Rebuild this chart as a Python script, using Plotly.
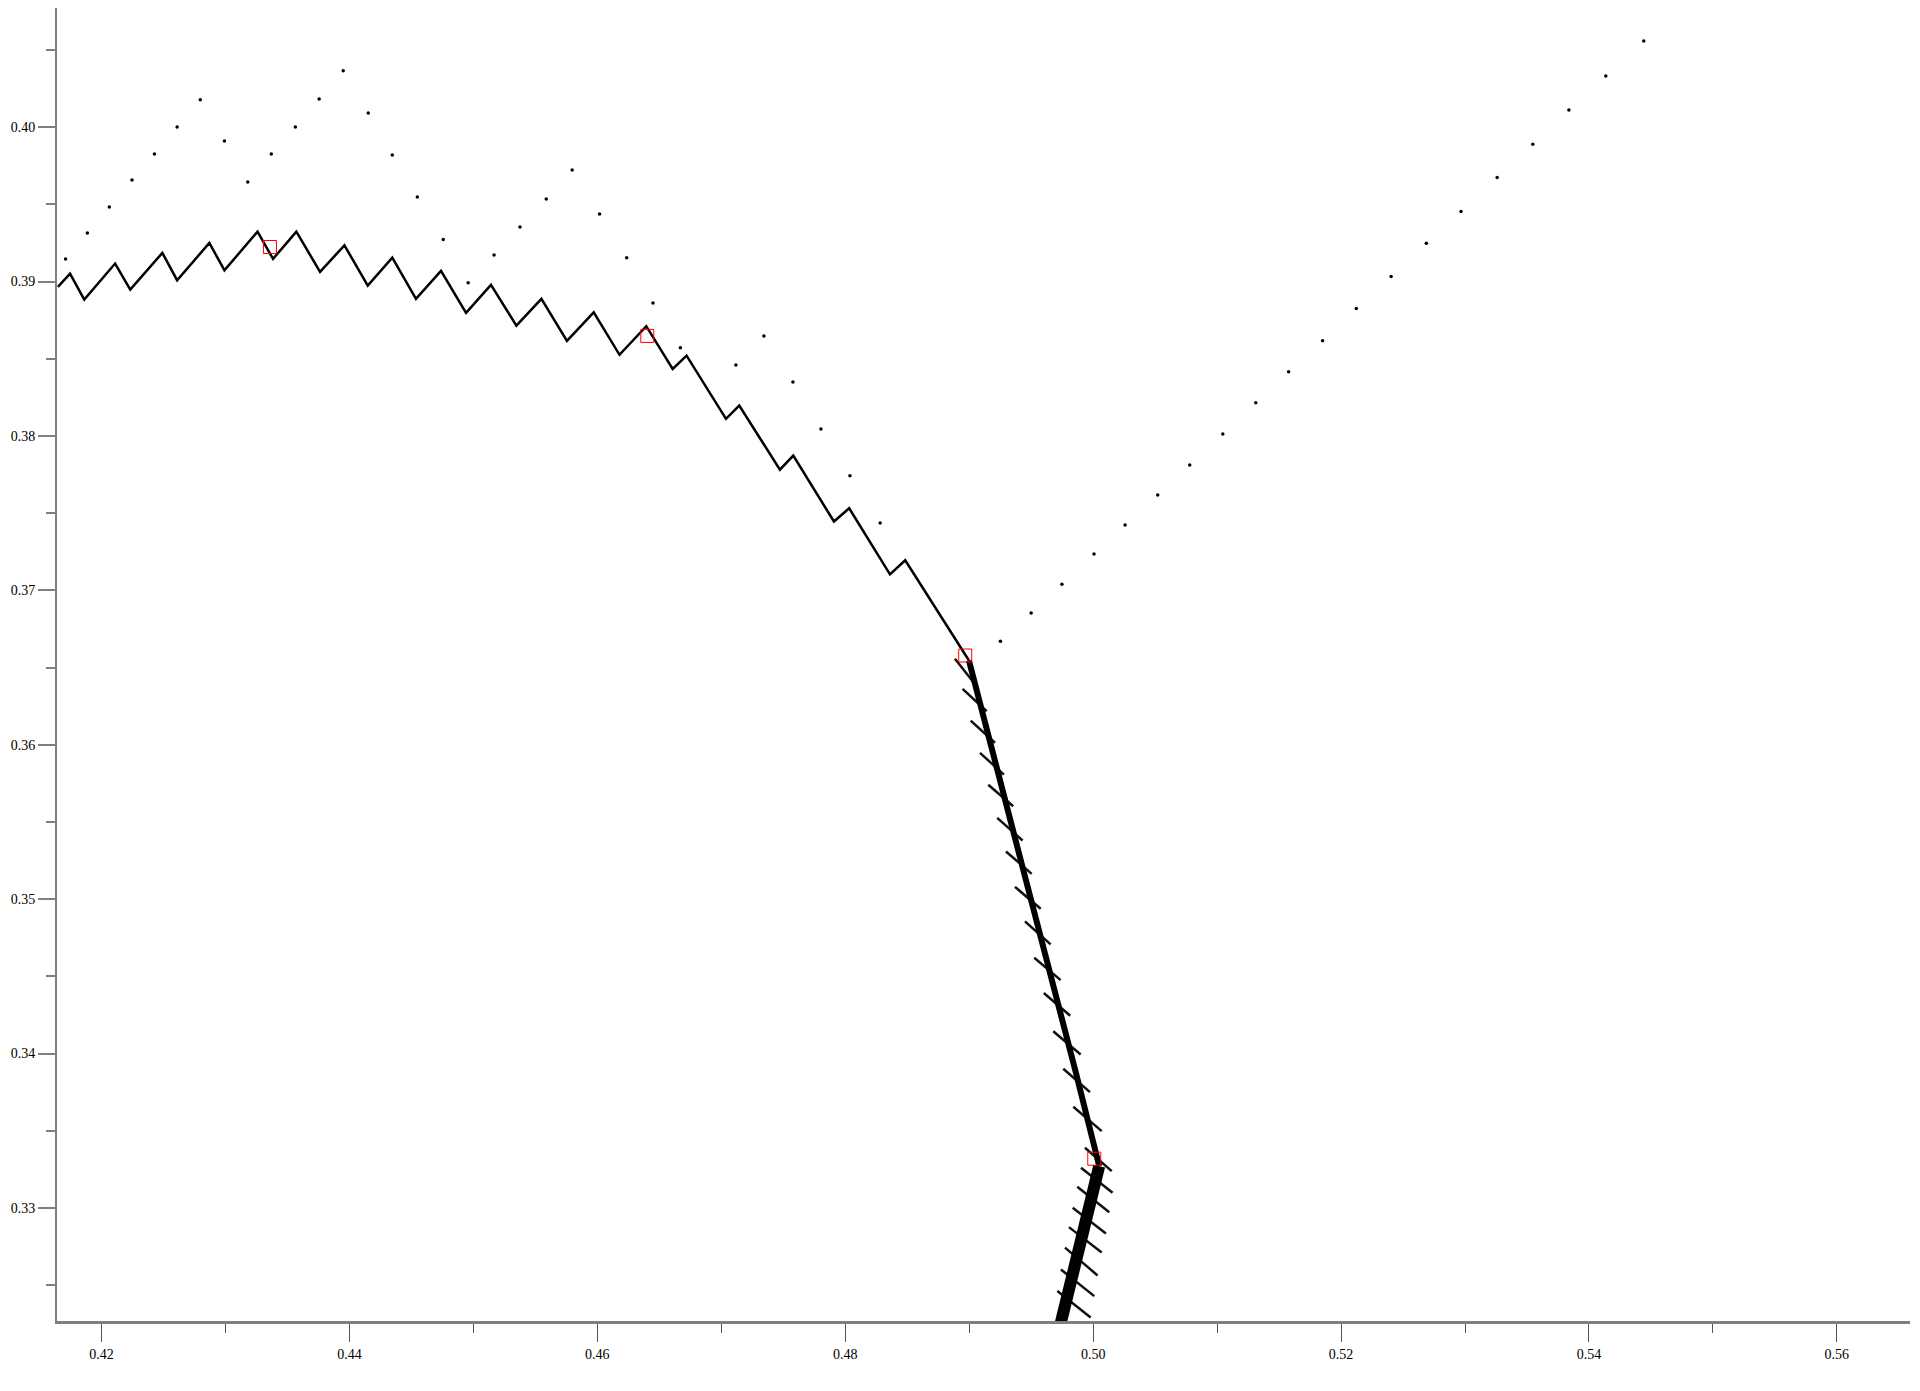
import plotly.graph_objects as go

# main zigzag path (left part of the orbit)
zigzag_x = [0.41648, 0.41746, 0.41861, 0.42110, 0.42232, 0.42491, 0.42610, 0.42870,
            0.42992, 0.43259, 0.43384, 0.43572, 0.43763, 0.43960, 0.44148, 0.44346,
            0.44537, 0.44739, 0.44941, 0.45142, 0.45347, 0.45549, 0.45755, 0.45971,
            0.46179, 0.46395, 0.46608, 0.46720, 0.47038, 0.47145, 0.47473, 0.47581,
            0.47909, 0.48032, 0.48361, 0.48484, 0.48998]
zigzag_y = [0.38966, 0.39052, 0.38883, 0.39117, 0.38948, 0.39186, 0.39009, 0.39250,
            0.39073, 0.39324, 0.39147, 0.39324, 0.39063, 0.39235, 0.38974, 0.39155,
            0.38888, 0.39069, 0.38797, 0.38979, 0.38715, 0.38888, 0.38616, 0.38801,
            0.38526, 0.38711, 0.38434, 0.38520, 0.38111, 0.38197, 0.37782, 0.37873,
            0.37446, 0.37532, 0.37104, 0.37195, 0.36546]

# dense band
band_upper_x = [0.48998, 0.49704, 0.49861, 0.50049]
band_upper_y = [0.36546, 0.34389, 0.33876, 0.33271]
band_lower_x = [0.50049, 0.49746, 0.49728]
band_lower_y = [0.33271, 0.32278, 0.32220]

# short side branches along the band
barb_x0 = [0.48885, 0.48947, 0.49012, 0.49087, 0.49154, 0.49226, 0.49297, 0.49369,
           0.49450, 0.49525, 0.49602, 0.49678, 0.49759, 0.49840, 0.49934, 0.49902,
           0.49872, 0.49835, 0.49805, 0.49773, 0.49740, 0.49711]
barb_y0 = [0.36557, 0.36362, 0.36157, 0.35948, 0.35741, 0.35527, 0.35309, 0.35080,
           0.34856, 0.34621, 0.34392, 0.34145, 0.33902, 0.33656, 0.33390, 0.33261,
           0.33138, 0.33002, 0.32876, 0.32743, 0.32602, 0.32462]
barb_x1 = [0.49060, 0.49141, 0.49208, 0.49280, 0.49355, 0.49431, 0.49504, 0.49577,
           0.49657, 0.49738, 0.49815, 0.49899, 0.49974, 0.50069, 0.50150, 0.50157,
           0.50130, 0.50103, 0.50069, 0.50036, 0.50009, 0.49980]
barb_y1 = [0.36379, 0.36217, 0.36013, 0.35807, 0.35602, 0.35380, 0.35164, 0.34938,
           0.34707, 0.34476, 0.34245, 0.33994, 0.33750, 0.33498, 0.33239, 0.33099,
           0.32973, 0.32835, 0.32711, 0.32563, 0.32429, 0.32290]

# isolated points
dot_x = [0.41710, 0.41886, 0.42063, 0.42246, 0.42427, 0.42610, 0.42797, 0.42992,
         0.43180, 0.43370, 0.43564, 0.43756, 0.43950, 0.44152, 0.44346, 0.44548,
         0.44757, 0.44958, 0.45167, 0.45376, 0.45588, 0.45797, 0.46018, 0.46237,
         0.46449, 0.46670, 0.47118, 0.47344, 0.47578, 0.47804, 0.48038, 0.48282,
         0.49252, 0.49500, 0.49748, 0.50007, 0.50258, 0.50521, 0.50779, 0.51046,
         0.51312, 0.51577, 0.51851, 0.52123, 0.52404, 0.52688, 0.52968, 0.53259,
         0.53547, 0.53838, 0.54136, 0.54442]
dot_y = [0.39147, 0.39315, 0.39483, 0.39658, 0.39827, 0.40001, 0.40178, 0.39911,
         0.39645, 0.39827, 0.40001, 0.40183, 0.40366, 0.40092, 0.39820, 0.39548,
         0.39272, 0.38992, 0.39173, 0.39354, 0.39535, 0.39723, 0.39438, 0.39155,
         0.38862, 0.38571, 0.38460, 0.38648, 0.38350, 0.38046, 0.37742, 0.37437,
         0.36671, 0.36853, 0.37039, 0.37235, 0.37423, 0.37618, 0.37812, 0.38013,
         0.38215, 0.38416, 0.38617, 0.38826, 0.39033, 0.39248, 0.39454, 0.39674,
         0.39889, 0.40111, 0.40331, 0.40558]

# marked points (red squares)
marked_x = [0.43359, 0.46403, 0.48968, 0.50009]
marked_y = [0.39224, 0.38648, 0.36578, 0.33319]

x_range = [0.41641, 0.56590]
y_range = [0.32268, 0.40772]

barb_x, barb_y = [], []
for a, b, c, d in zip(barb_x0, barb_y0, barb_x1, barb_y1):
    barb_x += [a, c, None]
    barb_y += [b, d, None]

fig = go.Figure()

fig.add_trace(go.Scatter(x=zigzag_x, y=zigzag_y, mode="lines",
                         line=dict(color="black", width=2.5)))
fig.add_trace(go.Scatter(x=barb_x, y=barb_y, mode="lines",
                         line=dict(color="#111111", width=2.5)))
fig.add_trace(go.Scatter(x=band_upper_x, y=band_upper_y, mode="lines",
                         line=dict(color="black", width=6)))
fig.add_trace(go.Scatter(x=band_lower_x, y=band_lower_y, mode="lines",
                         line=dict(color="black", width=12)))
fig.add_trace(go.Scatter(x=dot_x, y=dot_y, mode="markers",
                         marker=dict(color="black", size=3.5)))
fig.add_trace(go.Scatter(x=marked_x, y=marked_y, mode="markers",
                         marker=dict(symbol="square-open", size=13,
                                     color="red", line=dict(color="red", width=1))))

# page body has an 8px margin, so the figure is sized to fit inside it
fig.update_layout(
    width=1904,
    height=1375,
    showlegend=False,
    plot_bgcolor="white",
    paper_bgcolor="white",
    margin=dict(l=49, r=2, t=0, b=62),
    font=dict(family="Liberation Serif", size=14, color="black"),
)

fig.update_xaxes(
    range=x_range, automargin=False,
    showgrid=False, zeroline=False,
    showline=True, linecolor="#808080", linewidth=3,
    ticks="outside", ticklen=18, tickwidth=1, tickcolor="#555555",
    tick0=0.42, dtick=0.02, tickformat=".2f",
    minor=dict(ticks="outside", ticklen=9, tickwidth=1, tickcolor="#555555",
               dtick=0.01, tick0=0.42, showgrid=False),
)
fig.update_yaxes(
    range=y_range, automargin=False,
    showgrid=False, zeroline=False,
    showline=True, linecolor="#808080", linewidth=2,
    ticks="outside", ticklen=17, tickwidth=2, tickcolor="#808080",
    tick0=0.33, dtick=0.01, tickformat=".2f",
    minor=dict(ticks="outside", ticklen=9, tickwidth=2, tickcolor="#808080",
               dtick=0.005, tick0=0.33, showgrid=False),
)

fig.write_html("out.html")
